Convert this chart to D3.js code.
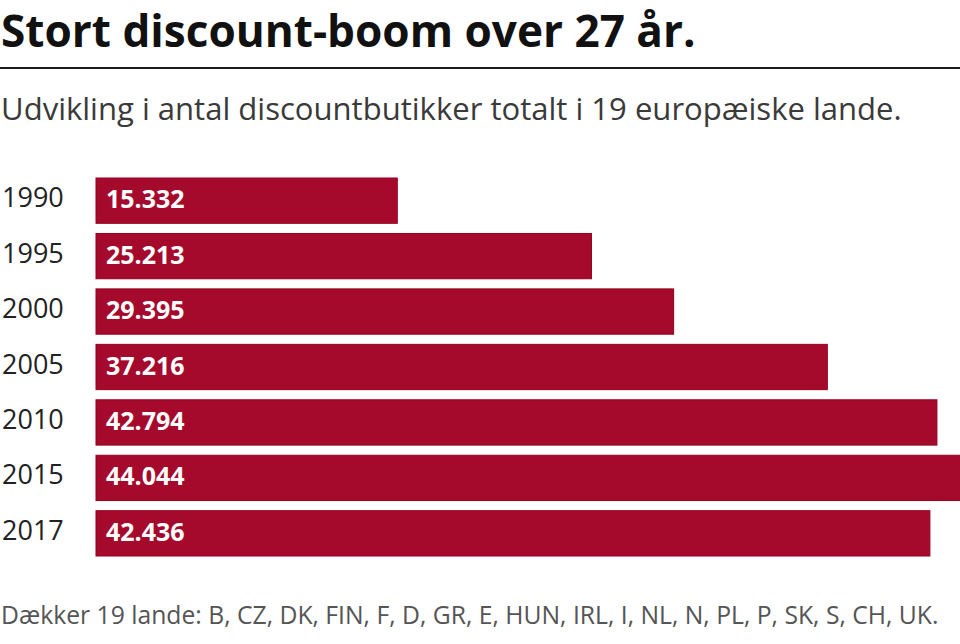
<!DOCTYPE html>
<html><head><meta charset="utf-8">
<script src="https://cdn.jsdelivr.net/npm/d3@7"></script>
<style>html,body{margin:0;padding:0;background:#fff;overflow:hidden}</style>
</head><body>
<svg id="c" width="960" height="644"></svg>
<script>
const years = ["1990","1995","2000","2005","2010","2015","2017"];
const values = [15332, 25213, 29395, 37216, 42794, 44044, 42436];
const title = "Stort discount-boom over 27 år.";
const subtitle = "Udvikling i antal discountbutikker totalt i 19 europæiske lande.";
const footer = "Dækker 19 lande: B, CZ, DK, FIN, F, D, GR, E, HUN, IRL, I, NL, N, PL, P, SK, S, CH, UK.";

const font = "'Open Sans', 'Noto Sans', sans-serif";
const svg = d3.select("#c");

function fitText(sel, target) {
  const w = sel.node().getComputedTextLength();
  const fs = parseFloat(sel.attr("font-size"));
  sel.attr("font-size", fs * target / w);
}

const t = svg.append("text").attr("x", 1).attr("y", 47).text(title)
  .attr("font-family", font).attr("font-weight", 700).attr("font-size", 44).attr("fill", "#111");
fitText(t, 695);

svg.append("line").attr("x1", 0).attr("x2", 960).attr("y1", 68).attr("y2", 68)
  .attr("stroke", "#1a1a1a").attr("stroke-width", 2);

const st = svg.append("text").attr("x", 1).attr("y", 120).text(subtitle)
  .attr("font-family", font).attr("font-size", 28).attr("fill", "#3a3a3a");
fitText(st, 901);

const data = years.map((y, i) => ({year: y, value: values[i]}));

const x = d3.scaleLinear().domain([0, 44044]).range([96, 961.5]);
const y = d3.scaleBand().domain(years).range([178, 556]).paddingInner(0.183).paddingOuter(0);

svg.append("g").selectAll("rect").data(data).join("rect")
  .attr("x", x(0)).attr("y", d => y(d.year))
  .attr("width", d => x(d.value) - x(0)).attr("height", y.bandwidth())
  .attr("fill", "#a50a2c").attr("stroke", "#94001f").attr("stroke-width", 1);

const fmt = v => d3.format(",")(v).replace(/,/g, ".");

svg.append("g").selectAll("text").data(data).join("text")
  .attr("x", 2).attr("y", d => y(d.year) + y.bandwidth() / 2 + 6.5)
  .attr("font-family", font).attr("font-size", 27).attr("fill", "#222")
  .text(d => d.year);

svg.append("g").selectAll("text").data(data).join("text")
  .attr("x", 106).attr("y", d => y(d.year) + y.bandwidth() / 2 + 7.5)
  .attr("font-family", font).attr("font-weight", 700).attr("font-size", 25).attr("fill", "#fff")
  .text(d => fmt(d.value));

const ft = svg.append("text").attr("x", 1).attr("y", 624).text(footer)
  .attr("font-family", font).attr("font-size", 21).attr("fill", "#555");
fitText(ft, 938);
</script>
</body></html>
